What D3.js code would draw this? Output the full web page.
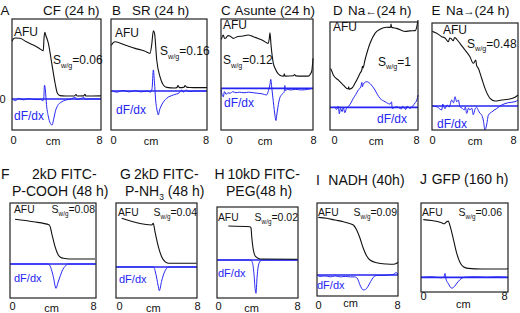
<!DOCTYPE html>
<html><head><meta charset="utf-8">
<script src="https://cdn.jsdelivr.net/npm/d3@7"></script>
<style>body{margin:0;background:#fff} svg{display:block} text{font-family:"Liberation Sans",Arial,Helvetica,sans-serif}</style>
</head><body><svg id="chart" width="520" height="313"></svg>
<script>
// ---------------- DATA ----------------
const panelLetters = ["A","B","C","D","E","F","G","H","I","J"];
const panelTitles = [
  ["CF (24 h)"], ["SR (24 h)"], ["Asunte (24 h)"], ["Na~{←}(24 h)"], ["Na~{→}(24 h)"],
  ["2kD FITC-","P-COOH (48 h)"], ["2kD FITC-","P-NH_{3} (48 h)"], ["10kD FITC-","PEG(48 h)"],
  ["NADH (40h)"], ["GFP (160 h)"]
];
const sValues = ["0.06","0.16","0.12","1","0.48","0.08","0.04","0.02","0.09","0.06"];
const hasDfdxLabel = [true,true,true,true,true,true,true,true,true,false];
const xTicks = [0, 8];
const xLabel = "cm";
const xDomain = [0, 8];

// AFU profiles (x in cm, y in % of panel height above the dF/dx zero line)
const afuA = [[0,52],[0.1,54],[0.3,55],[0.72,54.7],[1.3,51.5],[1.92,48.6],[2.4,46],[2.81,43.5],[2.88,55],[2.95,60],[3.05,57],[3.26,50.5],[3.57,32.4],[3.87,14.4],[4.07,5.4],[4.31,3],[4.8,2.7],[5.6,2.7],[5.75,4],[5.85,2.7],[6.45,2.8],[6.56,4.2],[6.65,2.7],[7.2,2.7],[8,2.8]];
const afuB = [[0.02,41],[0.19,43.5],[0.33,44.4],[1.17,41.4],[2.0,38.4],[2.8,36],[3.25,33.9],[3.39,41.4],[3.53,54.3],[3.63,52],[3.81,27.9],[4.08,12.9],[4.36,5.4],[4.64,3.3],[5.33,2.7],[5.5,3.2],[5.58,5],[5.7,3],[6.1,3.5],[6.17,5],[6.3,3.5],[6.58,3.2],[7.2,3],[8,3]];
const afuC = [[0.03,44],[0.2,48],[0.3,45],[0.43,45.3],[0.6,47.5],[0.78,47.1],[1.07,45],[1.48,46.7],[1.94,47.1],[2.35,48],[2.81,46.5],[3.22,44.9],[3.68,42.9],[4.11,40.5],[4.2,45],[4.26,50.1],[4.35,39],[4.55,22.5],[4.7,18],[4.98,12.9],[5.28,11.1],[5.45,11],[5.5,13],[5.56,11],[6.3,11.3],[6.4,12.5],[6.5,11.2],[7.0,11],[7.6,11],[7.75,12.5],[7.9,16],[8,27]];
const afuD = [[0.05,36],[0.15,33.9],[0.3,29.9],[0.75,25.3],[1.21,20.6],[1.66,16.9],[1.7,19],[1.75,16.8],[1.97,17.6],[2.27,22.2],[2.73,31.5],[2.9,35],[2.95,38],[3.0,36.5],[3.18,43.8],[3.64,59.3],[4.09,68.5],[4.55,72.2],[5.15,74.1],[5.5,74],[5.55,77],[5.6,74],[6.06,73.1],[6.82,70.2],[7.27,70.8],[7.73,71],[7.9,75],[8,80.8]];
const afuE = [[0.02,70],[0.12,69.4],[0.44,67.9],[0.9,64.8],[1.21,63.6],[1.52,60.1],[1.65,63.5],[1.77,63.1],[1.98,61],[2.1,64],[2.3,62.3],[2.6,58.6],[3.07,52.3],[3.53,46.1],[3.84,39.9],[4.07,43],[4.15,38],[4.31,35.2],[4.62,25.9],[4.93,16.5],[5.4,7.2],[5.86,4.7],[6.48,5.6],[7.1,6.3],[7.72,8.1],[8,10.3]];
const afuF = [[0.47,47.1],[2.17,44.5],[3.66,41.1],[3.77,37.9],[3.88,32.3],[4.03,25.3],[4.19,18.2],[4.49,9.5],[4.74,6.8],[4.96,6],[5.58,5.3],[7.91,5.3]];
const afuG = [[0.56,51.3],[3.53,44.2],[3.68,46],[3.85,37.2],[4.18,21.4],[4.51,10.8],[4.84,5.6],[5.17,3.9],[7.97,3.9]];
const afuH = [[1.12,37.4],[3.26,36.6],[3.36,35.2],[3.43,25.6],[3.59,11],[3.82,3.6],[4.25,1.1],[7.93,0.8]];
const afuI = [[0.13,62],[0.96,61],[1.78,59.1],[2.6,57.3],[3.06,55.9],[3.59,53.8],[3.92,48.4],[4.25,39.5],[4.57,28.7],[4.91,20.4],[5.23,16.1],[5.9,13.2],[6.88,11.8],[7.54,11.5],[7.87,12.6],[8,13.7]];
const afuJ = [[0.21,64.8],[0.98,63.8],[1.9,61.3],[2.14,60.2],[2.36,62.4],[2.51,63.1],[2.67,57.7],[2.97,43.3],[3.28,27.2],[3.59,16.5],[3.89,11.8],[4.35,10],[5.58,9.4],[7.88,9.4],[8,10]];

// dF/dx profiles (same units)
const dfdxA = [[0.05,0],[0.3,-1.5],[0.6,0.5],[1.0,-0.8],[1.5,0.3],[2.0,-0.5],[2.6,-0.5],[2.78,-1.5],[2.85,0],[2.92,12.5],[3.0,8],[3.1,-5],[3.25,-15],[3.45,-22],[3.6,-23.5],[3.75,-18],[3.9,-11],[4.1,-6],[4.4,-3],[4.8,-1],[5.3,0],[5.7,1.5],[5.8,-0.5],[6.5,1.2],[6.6,-0.5],[7,0],[8,0]];
const dfdxB = [[0.1,0],[0.5,-1],[1,0.5],[1.5,-0.8],[2,0.3],[2.5,-0.8],[3.0,0],[3.3,-1],[3.42,2],[3.53,19],[3.62,8],[3.72,-8],[3.85,-18],[3.94,-21.6],[4.05,-17],[4.22,-12.6],[4.64,-6.6],[5.19,-3.6],[5.7,-1.5],[5.9,1],[6.0,-1],[6.3,0.8],[6.5,-0.5],[7,0],[8,0]];
const dfdxC = [[0,-1],[0.1,-6],[0.2,-7.6],[0.3,-3],[0.45,-5.5],[0.6,-4],[0.8,-4.5],[1.0,-3],[1.3,-4],[1.6,-3.5],[2,-4],[2.4,-3.5],[2.8,-4],[3.2,-4.5],[3.6,-5],[3.95,-6],[4.1,-3],[4.25,3],[4.33,8],[4.42,0],[4.55,-12],[4.7,-25],[4.78,-29],[4.85,-24],[4.95,-17],[5.1,-9],[5.3,-5.5],[5.5,-3],[5.55,2.5],[5.6,-2],[5.8,-1],[6.0,-1.5],[6.5,-1],[7,-1.5],[7.5,-1],[8,0]];
const dfdxD = [[0.45,0.5],[0.6,-2],[0.75,1],[0.85,-6],[0.95,-1],[1.1,-4],[1.2,0],[1.35,-5],[1.5,-1],[1.7,1],[1.9,4],[2.12,8.3],[2.35,12],[2.57,16],[2.8,19],[2.9,23],[2.95,19],[3.03,21.6],[3.34,23.7],[3.64,22],[3.85,19.5],[4.09,16],[4.3,12],[4.55,8.3],[5.0,5.2],[5.45,3],[5.6,5],[5.65,-1],[6.06,0.5],[6.5,-1.5],[6.6,1],[6.9,-2],[7.0,1],[7.3,-1],[7.5,1],[7.73,4],[7.9,6.8],[8,11.4]];
const dfdxE = [[0.05,0],[0.5,-1],[0.9,-3.7],[1.0,1.8],[1.2,-2.5],[1.4,1],[1.6,-1],[1.83,5.6],[2.0,3],[2.14,8.7],[2.3,4],[2.45,5.6],[2.6,-0.6],[2.8,-2],[3.0,-3.7],[3.1,-1],[3.23,-6.9],[3.4,-2],[3.53,-3.7],[3.7,-2],[3.84,-8.1],[4.0,-3],[4.15,-1.2],[4.3,-4],[4.47,-6.9],[4.6,-8],[4.77,-13.1],[4.93,-22.4],[5.08,-17.8],[5.24,-8.7],[5.55,-5.6],[6.0,-2.5],[6.48,0.9],[7.1,3.1],[7.72,4],[8,5.6]];
const dfdxF = [[0.05,0],[3.56,0],[3.8,-4],[4.03,-13.4],[4.28,-25.6],[4.45,-20],[4.65,-13.4],[4.9,-6],[5.12,-2.5],[5.4,0],[7.95,0]];
const dfdxG = [[0.05,0],[3.7,0],[3.95,-8],[4.15,-19],[4.28,-25],[4.5,-15],[4.8,-5],[5.2,0],[7.95,0]];
const dfdxH = [[0.05,0],[3.3,0],[3.5,-3],[3.65,-15],[3.78,-33],[3.85,-36.6],[3.95,-20],[4.1,-5.5],[4.3,-1],[4.5,0],[7.95,0]];
const dfdxI = [[0.05,-0.5],[0.3,-1.5],[0.8,-1],[1.3,-2],[1.8,-1],[2.3,-2],[2.8,-1.5],[3.3,-2],[3.7,-2],[4.0,-4],[4.25,-10.8],[4.57,-16.1],[4.8,-15.5],[5.05,-12],[5.3,-7],[5.56,-2.5],[5.9,-0.5],[6.5,-0.5],[7,0],[7.5,0.5],[7.8,2.5],[8,1]];
const dfdxJ = [[0.05,0],[1.0,0.5],[1.8,-0.5],[2.1,0],[2.21,4.3],[2.3,-2],[2.5,-6.8],[2.82,-12.2],[3.1,-10],[3.4,-5],[3.7,-1.5],[4.0,0],[5,0.5],[6,0],[7,0.5],[8,0]];

const afuSeries = [afuA,afuB,afuC,afuD,afuE,afuF,afuG,afuH,afuI,afuJ];
const dfdxSeries = [dfdxA,dfdxB,dfdxC,dfdxD,dfdxE,dfdxF,dfdxG,dfdxH,dfdxI,dfdxJ];

// ---------------- LAYOUT ----------------
const layout = [
 {row:"top", box:[12,19,101,130], zero:99,  letter:[0.5,15], title:[[43,15]], afu:[14,36], s:[53,64,"start"], d:[14,120], ax:{y:144, ycm:145, dx0:1, dx8:-2, cm:53}, zeroLabel:true},
 {row:"top", box:[111,19,207,130], zero:91, letter:[112,15], title:[[132,15]], afu:[115,36.7], s:[160,55,"start"], d:[116,114.3], ax:{y:144, ycm:145, dx0:2, dx8:-1.5, cm:151}},
 {row:"top", box:[221,19,313,130], zero:88.3, letter:[221,15], title:[[234.5,15]], afu:[223,29.3], s:[223,64,"start"], d:[224,106.7], ax:{y:144, ycm:145, dx0:8, dx8:0, cm:265}},
 {row:"top", box:[330,22,418,130], zero:107.3, letter:[333,15], title:[[348,15]], afu:[333,31], s:[378,65.7,"start"], d:[377,122.7], ax:{y:144, ycm:145, dx0:4, dx8:-2, cm:376}},
 {row:"top", box:[432,23,518,130], zero:106, letter:[431.5,15], title:[[446,15]], afu:[443,34], s:[467,47.7,"start"], d:[437,128.3], ax:{y:144, ycm:145, dx0:0, dx8:-5, cm:475}},
 {row:"bottom", box:[10,203,96,298], zero:264, letter:[1,179.3], title:[[32,179.3],[12,196]], afu:[14,212.7], s:[95,212.7,"end"], d:[14,281.7], ax:{y:310, ycm:311.7, dx0:2, dx8:-3, cm:51.7}},
 {row:"bottom", box:[116,203,197,298], zero:267, letter:[120,179.3], title:[[134,179.3],[125,196]], afu:[118,216], s:[197,216,"end"], d:[119,282.7], ax:{y:310, ycm:311.7, dx0:3, dx8:0, cm:153.3}},
 {row:"bottom", box:[217,207,298,298], zero:260, letter:[214.5,179.3], title:[[227.5,179.3],[226,196]], afu:[218,220.7], s:[298,220.7,"end"], d:[218,277.3], ax:{y:310, ycm:311.7, dx0:1, dx8:-1, cm:251.7}},
 {row:"bottom", box:[317,203,398,296], zero:275, letter:[316,185], title:[[328.3,185]], afu:[318,216], s:[397,216,"end"], d:[317,289.3], ax:{y:309.3, ycm:307.3, dx0:1, dx8:-1, cm:350.7}},
 {row:"bottom", box:[421,203,508,292], zero:277.3, letter:[420,184], title:[[431.7,184]], afu:[422,216], s:[502,216,"end"], d:null, ax:{y:300, ycm:308.3, dx0:2, dx8:-4, cm:463.3}}
];
const rowStyle = {
  top:    {title:13.4, afu:12, s:12, d:12, axis:11},
  bottom: {title:14, afu:10.3, s:10.5, d:11, axis:11}
};
const BLUE = "#2626f2";

// ---------------- DRAW ----------------
const svg = d3.select("#chart");

function rich(sel, str, size){
  const parts = str.split(/(_\{[^}]*\}|~\{[^}]*\})/).filter(s => s.length);
  let pending = 0;
  parts.forEach(p => {
    const t = sel.append("tspan");
    if (p.startsWith("_{")) {
      const sh = size*0.3;
      t.attr("font-size", size*0.6).attr("dy", sh).text(p.slice(2,-1));
      pending = sh;
    } else if (p.startsWith("~{")) {
      t.attr("font-size", size*0.85).text(p.slice(2,-1));
    } else {
      t.attr("font-size", size).text(p);
      if (pending) { t.attr("dy", -pending); pending = 0; }
    }
  });
}

layout.forEach((L, i) => {
  const st = rowStyle[L.row];
  const [l,t,r,b] = L.box;
  const h = b - t;
  const x = d3.scaleLinear().domain(xDomain).range([l, r]);
  const y = d3.scaleLinear()
    .domain([-(b - L.zero)/h*100, (L.zero - t)/h*100])
    .range([b, t]);
  const g = svg.append("g");

  // zero line of dF/dx
  g.append("line").attr("x1", x(xDomain[0])).attr("x2", x(xDomain[1]))
    .attr("y1", y(0)).attr("y2", y(0))
    .attr("stroke", BLUE).attr("stroke-width", 1.7);

  const line = d3.line().x(d => x(d[0])).y(d => y(d[1])).curve(d3.curveMonotoneX);
  g.append("path").datum(dfdxSeries[i]).attr("d", line)
    .attr("fill","none").attr("stroke", BLUE).attr("stroke-width", 1);
  g.append("path").datum(afuSeries[i]).attr("d", line)
    .attr("fill","none").attr("stroke", "#111").attr("stroke-width", 1.1);

  // frame
  g.append("rect").attr("x", l).attr("y", t).attr("width", r-l).attr("height", h)
    .attr("fill","none").attr("stroke","#222").attr("stroke-width",1.2);

  // x axis labels via d3 axis
  const ax = d3.axisBottom(x).tickValues(xTicks).tickSize(0).tickFormat(d3.format("d"));
  const ag = g.append("g").attr("transform", `translate(0,${L.ax.y})`).call(ax);
  ag.select(".domain").remove();
  ag.selectAll("text").attr("y", 0).attr("dy", null)
    .attr("font-size", st.axis).attr("font-family", null).attr("fill","#111")
    .attr("dx", d => d === xTicks[0] ? L.ax.dx0 : L.ax.dx8);
  g.append("text").attr("x", L.ax.cm).attr("y", L.ax.ycm).attr("text-anchor","middle")
    .attr("font-size", st.axis).attr("fill","#111").text(xLabel);

  if (L.zeroLabel) {
    g.append("text").attr("x", 2.5).attr("y", y(0) + 4).attr("text-anchor","middle")
      .attr("font-size", st.axis).attr("fill","#111").text("0");
  }

  // panel letter and title
  g.append("text").attr("x", L.letter[0]).attr("y", L.letter[1])
    .attr("font-size", st.title).attr("fill","#111").text(panelLetters[i]);
  panelTitles[i].forEach((line, k) => {
    const tx = g.append("text").attr("x", L.title[k][0]).attr("y", L.title[k][1]).attr("fill","#111");
    rich(tx, line, st.title);
  });

  // inner labels
  g.append("text").attr("x", L.afu[0]).attr("y", L.afu[1]).attr("font-size", st.afu)
    .attr("fill","#111").text("AFU");
  const sx = g.append("text").attr("x", L.s[0]).attr("y", L.s[1]).attr("text-anchor", L.s[2]).attr("fill","#111");
  rich(sx, "S_{w/g}=" + sValues[i], st.s);
  if (hasDfdxLabel[i] && L.d) {
    g.append("text").attr("x", L.d[0]).attr("y", L.d[1]).attr("font-size", st.d)
      .attr("fill", BLUE).text("dF/dx");
  }
});
</script></body></html>
